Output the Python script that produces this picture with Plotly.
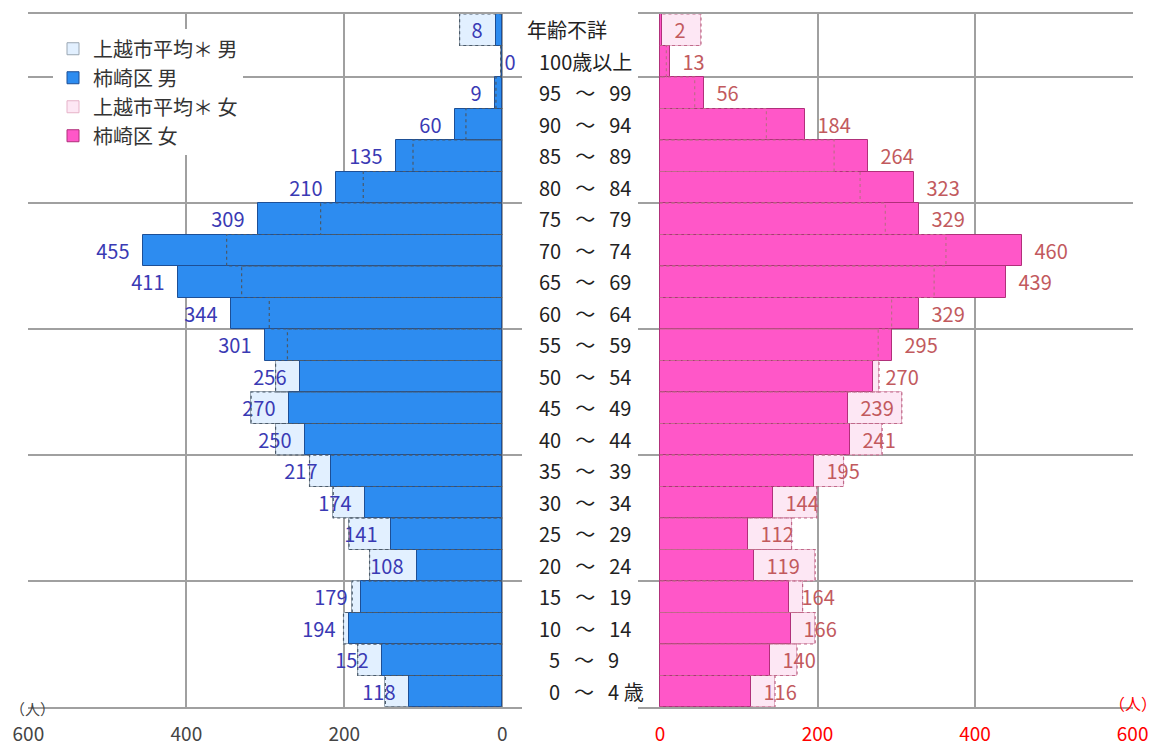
import plotly.graph_objects as go

# ---- data (bottom row first) ----
age_labels = ["0 ～ 4 歳", "5 ～ 9", "10 ～ 14", "15 ～ 19", "20 ～ 24", "25 ～ 29",
              "30 ～ 34", "35 ～ 39", "40 ～ 44", "45 ～ 49", "50 ～ 54", "55 ～ 59",
              "60 ～ 64", "65 ～ 69", "70 ～ 74", "75 ～ 79", "80 ～ 84", "85 ～ 89",
              "90 ～ 94", "95 ～ 99", "100歳以上", "年齢不詳"]
male_kakizaki = [118, 152, 194, 179, 108, 141, 174, 217, 250, 270, 256, 301,
                 344, 411, 455, 309, 210, 135, 60, 9, 0, 8]
male_city_avg = [148, 183, 201, 190, 168, 194, 214, 244, 287, 318, 287, 272,
                 295, 330, 349, 230, 176, 113, 46, 8, 2, 54]
female_kakizaki = [116, 140, 166, 164, 119, 112, 144, 195, 241, 239, 270, 295,
                   329, 439, 460, 329, 323, 264, 184, 56, 13, 2]
female_city_avg = [146, 174, 197, 181, 197, 167, 199, 233, 282, 307, 278, 277,
                   294, 348, 363, 286, 254, 221, 135, 44, 8, 52]
x_ticks = [0, 200, 400, 600]
row_grid = [3.5, 7.5, 11.5, 15.5, 19.5]

FONT = "Noto Sans CJK JP"
W, H = 1158, 747
idx = list(range(len(age_labels)))
GAP = "\u2002\u2009"


def fmt_label(s):
    # align the numbers like the original fixed layout
    if "～" in s:
        a, rest = s.split(" ～ ")
        a = ("\u2002" + a) if len(a) == 1 else a
        return a + GAP + "～" + GAP + rest
    return s


def box_path(vals):
    xs, ys = [], []
    for i, v in zip(idx, vals):
        xs += [0, v, v, 0, None]
        ys += [i - 0.5, i - 0.5, i + 0.5, i + 0.5, None]
    return xs, ys


fig = go.Figure()

# city average (filled background)
fig.add_trace(go.Bar(x=male_city_avg, y=idx, orientation="h", width=1,
                     name="上越市平均＊ 男", legendrank=1,
                     marker=dict(color="#e2f0ff", line=dict(color="#9aa6b2", width=1)),
                     xaxis="x", yaxis="y", hoverinfo="skip"))
fig.add_trace(go.Bar(x=female_city_avg, y=idx, orientation="h", width=1,
                     name="上越市平均＊ 女", legendrank=3,
                     marker=dict(color="#fde7f4", line=dict(color="#e6b3c9", width=1)),
                     xaxis="x2", yaxis="y2", hoverinfo="skip"))

# Kakizaki bars
fig.add_trace(go.Bar(x=male_kakizaki, y=idx, orientation="h", width=1,
                     name="柿崎区 男", legendrank=2,
                     marker=dict(color="#2d8cf0", line=dict(color="#1d4f96", width=1)),
                     text=[f"{v}\u2002" for v in male_kakizaki], textposition="outside",
                     textfont=dict(color="#3a3ab4", size=20, family=FONT),
                     cliponaxis=False, constraintext="none",
                     xaxis="x", yaxis="y"))
fig.add_trace(go.Bar(x=female_kakizaki, y=idx, orientation="h", width=1,
                     name="柿崎区 女", legendrank=4,
                     marker=dict(color="#ff57c8", line=dict(color="#b0307a", width=1)),
                     text=[f"\u2002{v}" for v in female_kakizaki], textposition="outside",
                     textfont=dict(color="#c25a5e", size=20, family=FONT),
                     cliponaxis=False, constraintext="none",
                     xaxis="x2", yaxis="y2"))

# dotted outlines of city average
mx, my = box_path(male_city_avg)
fig.add_trace(go.Scatter(x=mx, y=my, mode="lines", showlegend=False, hoverinfo="skip",
                         line=dict(color="#4a5a6a", width=1.2, dash="dot"),
                         xaxis="x", yaxis="y"))
fx, fy = box_path(female_city_avg)
fig.add_trace(go.Scatter(x=fx, y=fy, mode="lines", showlegend=False, hoverinfo="skip",
                         line=dict(color="#c06a8a", width=1.2, dash="dot"),
                         xaxis="x2", yaxis="y2"))

grid = "#a0a0a0"
left_dom = [28 / W, 522 / W]
right_dom = [638 / W, 1133 / W]
yrange = [-0.5, len(age_labels) - 0.5]

axis_common = dict(showgrid=True, gridcolor=grid, gridwidth=1.5, zeroline=False,
                   showline=True, mirror=True, linecolor=grid, linewidth=1.5,
                   tickvals=x_ticks, ticks="outside", ticklen=9,
                   tickcolor="rgba(0,0,0,0)", automargin=False)

fig.update_layout(
    width=W, height=H,
    margin=dict(l=0, r=0, t=14, b=40, autoexpand=False),
    plot_bgcolor="white", paper_bgcolor="white",
    barmode="overlay", bargap=0,
    font=dict(family=FONT, size=17, color="#333333"),
    xaxis=dict(domain=left_dom, range=[600.5, -25], anchor="y",
               tickfont=dict(size=19, color="#444444"), **axis_common),
    xaxis2=dict(domain=right_dom, range=[-28, 600.5], anchor="y2",
                tickfont=dict(size=19, color="#ff0000"), **axis_common),
    yaxis=dict(range=yrange, tickvals=row_grid, showticklabels=False,
               showgrid=True, gridcolor=grid, gridwidth=1.5, zeroline=False,
               anchor="x", automargin=False),
    yaxis2=dict(range=yrange, tickvals=row_grid, showticklabels=False,
                showgrid=True, gridcolor=grid, gridwidth=1.5, zeroline=False,
                anchor="x2", matches="y", automargin=False),
    legend=dict(x=53 / W, y=0.978, xanchor="left", yanchor="top",
                bgcolor="white", traceorder="normal",
                font=dict(size=20, color="#333333", family=FONT),
                itemwidth=30, tracegroupgap=0),
    showlegend=True,
)

# age-group labels in the centre column
for i, lab in zip(idx, age_labels):
    fig.add_annotation(x=537 / W, xref="paper", y=i, yref="y",
                       text=fmt_label(lab), showarrow=False, xanchor="left",
                       xshift=-12 if lab == "年齢不詳" else 0,
                       font=dict(size=20, color="#222222", family=FONT))

# unit labels
fig.add_annotation(x=32 / W, xref="paper", y=-0.002, yref="paper", text="（人）",
                   showarrow=False, xanchor="center", yanchor="middle",
                   font=dict(size=15, color="#444444", family=FONT))
fig.add_annotation(x=1133 / W, xref="paper", y=0.006, yref="paper", text="（人）",
                   showarrow=False, xanchor="center", yanchor="middle",
                   font=dict(size=16, color="#ff0000", family=FONT))

fig.write_html("out.html", config={"displayModeBar": False},
               post_script="document.body.style.margin='0px';"
                           "document.body.style.overflow='hidden';")
